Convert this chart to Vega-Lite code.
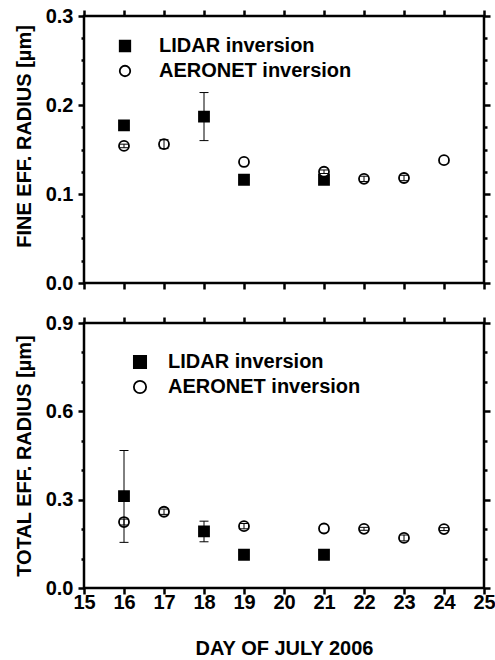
{
  "$schema": "https://vega.github.io/schema/vega-lite/v6.json",
  "padding": {"left": 12, "top": 4, "right": 0, "bottom": 2},
  "spacing": 16,
  "resolve": {"scale": {"shape": "independent", "fill": "independent"}, "legend": {"shape": "independent", "fill": "independent"}},
  "datasets": {
    "fine": [
      {"source": "LIDAR inversion", "day": 16, "value": 0.177},
      {"source": "LIDAR inversion", "day": 18, "value": 0.187, "lo": 0.160, "hi": 0.214},
      {"source": "LIDAR inversion", "day": 19, "value": 0.116},
      {"source": "LIDAR inversion", "day": 21, "value": 0.116},
      {"source": "AERONET inversion", "day": 16, "value": 0.154, "lo": 0.152, "hi": 0.156},
      {"source": "AERONET inversion", "day": 17, "value": 0.156, "lo": 0.151, "hi": 0.161},
      {"source": "AERONET inversion", "day": 19, "value": 0.136},
      {"source": "AERONET inversion", "day": 21, "value": 0.125, "lo": 0.123, "hi": 0.127},
      {"source": "AERONET inversion", "day": 22, "value": 0.117, "lo": 0.114, "hi": 0.120},
      {"source": "AERONET inversion", "day": 23, "value": 0.118, "lo": 0.115, "hi": 0.121},
      {"source": "AERONET inversion", "day": 24, "value": 0.138}
    ],
    "total": [
      {"source": "LIDAR inversion", "day": 16, "value": 0.312, "lo": 0.155, "hi": 0.467},
      {"source": "LIDAR inversion", "day": 18, "value": 0.192, "lo": 0.157, "hi": 0.227},
      {"source": "LIDAR inversion", "day": 19, "value": 0.113},
      {"source": "LIDAR inversion", "day": 21, "value": 0.113},
      {"source": "AERONET inversion", "day": 16, "value": 0.224, "lo": 0.214, "hi": 0.234},
      {"source": "AERONET inversion", "day": 17, "value": 0.259, "lo": 0.250, "hi": 0.268},
      {"source": "AERONET inversion", "day": 19, "value": 0.210, "lo": 0.201, "hi": 0.219},
      {"source": "AERONET inversion", "day": 21, "value": 0.202},
      {"source": "AERONET inversion", "day": 22, "value": 0.201, "lo": 0.196, "hi": 0.206},
      {"source": "AERONET inversion", "day": 23, "value": 0.170, "lo": 0.160, "hi": 0.180},
      {"source": "AERONET inversion", "day": 24, "value": 0.200, "lo": 0.195, "hi": 0.205}
    ]
  },
  "vconcat": [
    {
      "width": 400,
      "height": 267,
      "data": {"name": "fine"},
      "resolve": {"axis": {"x": "independent", "y": "independent"}},
      "layer": [
        {
          "mark": {"type": "point", "filled": true, "stroke": "black", "strokeWidth": 1.8, "size": 100, "opacity": 1},
          "encoding": {
            "x": {"field": "day", "type": "quantitative", "scale": {"domain": [15, 25], "nice": false},
              "axis": {"orient": "bottom", "values": [15,16,17,18,19,20,21,22,23,24,25], "labels": false, "tickSize": 6,
                "ticks": true, "tickColor": "black", "tickWidth": 2.5, "tickOpacity": 1, "title": null}},
            "y": {"field": "value", "type": "quantitative", "scale": {"domain": [0, 0.3], "nice": false},
              "axis": {"orient": "left", "tickSize": 6, "ticks": true, "tickColor": "black", "tickWidth": 2.5, "tickOpacity": 1,
                "values": [0,0.025,0.05,0.075,0.1,0.125,0.15,0.175,0.2,0.225,0.25,0.275,0.3],
                "labelExpr": "abs(datum.value*10 - round(datum.value*10)) < 0.001 ? format(datum.value, '.1f') : ''",
                "tickDash": {"condition": {"test": "abs(datum.value*10 - round(datum.value*10)) < 0.001", "value": [6, 0]}, "value": [3, 6]},
                "labelPadding": 5, "title": "FINE EFF. RADIUS [µm]", "titlePadding": 11, "titleY": 120}},
            "shape": {"field": "source", "type": "nominal", "scale": {"domain": ["LIDAR inversion", "AERONET inversion"], "range": ["square", "circle"]},
              "legend": {"legendX": 31, "legendY": 20, "labelOffset": 24, "rowPadding": 5,
                "encode": {"symbols": {"update": {"stroke": {"value": "black"}, "strokeWidth": {"value": 1.8}}}}}},
            "fill": {"field": "source", "type": "nominal", "scale": {"domain": ["LIDAR inversion", "AERONET inversion"], "range": ["black", "white"]},
              "legend": {"legendX": 31, "legendY": 20, "labelOffset": 24, "rowPadding": 5,
                "encode": {"symbols": {"update": {"stroke": {"value": "black"}, "strokeWidth": {"value": 1.8}}}}}}
          }
        },
        {
          "transform": [{"filter": "isValid(datum.lo)"}],
          "mark": {"type": "rule", "color": "black", "strokeWidth": 1},
          "encoding": {
            "x": {"field": "day", "type": "quantitative", "scale": {"domain": [15, 25], "nice": false}, "axis": null},
            "y": {"field": "lo", "type": "quantitative", "scale": {"domain": [0, 0.3], "nice": false}, "axis": null},
            "y2": {"field": "hi"}
          }
        },
        {
          "transform": [{"filter": "isValid(datum.lo)"}],
          "mark": {"type": "tick", "orient": "horizontal", "color": "black", "size": 9, "thickness": 1, "opacity": 1},
          "encoding": {
            "x": {"field": "day", "type": "quantitative", "scale": {"domain": [15, 25], "nice": false}, "axis": null},
            "y": {"field": "lo", "type": "quantitative", "scale": {"domain": [0, 0.3], "nice": false}, "axis": null}
          }
        },
        {
          "transform": [{"filter": "isValid(datum.lo)"}],
          "mark": {"type": "tick", "orient": "horizontal", "color": "black", "size": 9, "thickness": 1, "opacity": 1},
          "encoding": {
            "x": {"field": "day", "type": "quantitative", "scale": {"domain": [15, 25], "nice": false}, "axis": null},
            "y": {"field": "hi", "type": "quantitative", "scale": {"domain": [0, 0.3], "nice": false}, "axis": null}
          }
        },
        {
          "mark": {"type": "point", "opacity": 0},
          "encoding": {
            "x": {"field": "day", "type": "quantitative", "scale": {"domain": [15, 25], "nice": false},
              "axis": {"orient": "top", "values": [15,16,17,18,19,20,21,22,23,24,25], "labels": false, "tickSize": 6,
                "ticks": true, "tickColor": "black", "tickWidth": 2.5, "tickOpacity": 1, "title": null}},
            "y": {"field": "value", "type": "quantitative", "scale": {"domain": [0, 0.3], "nice": false},
              "axis": {"orient": "right", "tickSize": 6, "ticks": true, "tickColor": "black", "tickWidth": 2.5, "tickOpacity": 1,
                "values": [0,0.025,0.05,0.075,0.1,0.125,0.15,0.175,0.2,0.225,0.25,0.275,0.3], "labels": false,
                "tickDash": {"condition": {"test": "abs(datum.value*10 - round(datum.value*10)) < 0.001", "value": [6, 0]}, "value": [3, 6]},
                "title": null}}
          }
        }
      ]
    },
    {
      "width": 400,
      "height": 265,
      "data": {"name": "total"},
      "resolve": {"axis": {"x": "independent", "y": "independent"}},
      "layer": [
        {
          "mark": {"type": "point", "filled": true, "stroke": "black", "strokeWidth": 1.8, "size": 100, "opacity": 1},
          "encoding": {
            "x": {"field": "day", "type": "quantitative", "scale": {"domain": [15, 25], "nice": false},
              "axis": {"orient": "bottom", "tickSize": 6, "ticks": true, "tickColor": "black", "tickWidth": 2.5, "tickOpacity": 1,
                "values": [15,16,17,18,19,20,21,22,23,24,25], "labelPadding": -2, "labelFlush": false,
                "title": "DAY OF JULY 2006", "titlePadding": 26}},
            "y": {"field": "value", "type": "quantitative", "scale": {"domain": [0, 0.9], "nice": false},
              "axis": {"orient": "left", "tickSize": 6, "ticks": true, "tickColor": "black", "tickWidth": 2.5, "tickOpacity": 1,
                "values": [0,0.1,0.2,0.3,0.4,0.5,0.6,0.7,0.8,0.9],
                "labelExpr": "abs(datum.value/0.3 - round(datum.value/0.3)) < 0.001 ? format(datum.value, '.1f') : ''",
                "tickDash": {"condition": {"test": "abs(datum.value/0.3 - round(datum.value/0.3)) < 0.001", "value": [6, 0]}, "value": [3, 6]},
                "labelPadding": 5, "title": "TOTAL EFF. RADIUS [µm]", "titlePadding": 11}},
            "shape": {"field": "source", "type": "nominal", "scale": {"domain": ["LIDAR inversion", "AERONET inversion"], "range": ["square", "circle"]},
              "legend": {"legendX": 46, "legendY": 29, "labelOffset": 18, "rowPadding": 5, "symbolSize": 150,
                "encode": {"symbols": {"update": {"stroke": {"value": "black"}, "strokeWidth": {"value": 1.8}}}}}},
            "fill": {"field": "source", "type": "nominal", "scale": {"domain": ["LIDAR inversion", "AERONET inversion"], "range": ["black", "white"]},
              "legend": {"legendX": 46, "legendY": 29, "labelOffset": 18, "rowPadding": 5, "symbolSize": 150,
                "encode": {"symbols": {"update": {"stroke": {"value": "black"}, "strokeWidth": {"value": 1.8}}}}}}
          }
        },
        {
          "transform": [{"filter": "isValid(datum.lo)"}],
          "mark": {"type": "rule", "color": "black", "strokeWidth": 1},
          "encoding": {
            "x": {"field": "day", "type": "quantitative", "scale": {"domain": [15, 25], "nice": false}, "axis": null},
            "y": {"field": "lo", "type": "quantitative", "scale": {"domain": [0, 0.9], "nice": false}, "axis": null},
            "y2": {"field": "hi"}
          }
        },
        {
          "transform": [{"filter": "isValid(datum.lo)"}],
          "mark": {"type": "tick", "orient": "horizontal", "color": "black", "size": 9, "thickness": 1, "opacity": 1},
          "encoding": {
            "x": {"field": "day", "type": "quantitative", "scale": {"domain": [15, 25], "nice": false}, "axis": null},
            "y": {"field": "lo", "type": "quantitative", "scale": {"domain": [0, 0.9], "nice": false}, "axis": null}
          }
        },
        {
          "transform": [{"filter": "isValid(datum.lo)"}],
          "mark": {"type": "tick", "orient": "horizontal", "color": "black", "size": 9, "thickness": 1, "opacity": 1},
          "encoding": {
            "x": {"field": "day", "type": "quantitative", "scale": {"domain": [15, 25], "nice": false}, "axis": null},
            "y": {"field": "hi", "type": "quantitative", "scale": {"domain": [0, 0.9], "nice": false}, "axis": null}
          }
        },
        {
          "mark": {"type": "point", "opacity": 0},
          "encoding": {
            "x": {"field": "day", "type": "quantitative", "scale": {"domain": [15, 25], "nice": false},
              "axis": {"orient": "top", "tickSize": 6, "ticks": true, "tickColor": "black", "tickWidth": 2.5, "tickOpacity": 1,
                "values": [15,16,17,18,19,20,21,22,23,24,25], "labels": false, "title": null}},
            "y": {"field": "value", "type": "quantitative", "scale": {"domain": [0, 0.9], "nice": false},
              "axis": {"orient": "right", "tickSize": 6, "ticks": true, "tickColor": "black", "tickWidth": 2.5, "tickOpacity": 1,
                "values": [0,0.1,0.2,0.3,0.4,0.5,0.6,0.7,0.8,0.9], "labels": false,
                "tickDash": {"condition": {"test": "abs(datum.value/0.3 - round(datum.value/0.3)) < 0.001", "value": [6, 0]}, "value": [3, 6]},
                "title": null}}
          }
        }
      ]
    }
  ],
  "config": {
    "view": {"stroke": "black", "strokeWidth": 2.5, "fill": "transparent"},
    "axis": {
      "domain": false, "grid": false, "zindex": 1,
      "labelFont": "Liberation Sans", "labelFontWeight": "bold", "labelFontSize": 20, "labelColor": "black",
      "titleFont": "Liberation Sans", "titleFontWeight": "bold", "titleFontSize": 20, "titleColor": "black"
    },
    "legend": {
      "orient": "none", "title": null, "labelLimit": 400,
      "labelFont": "Liberation Sans", "labelFontWeight": "bold", "labelFontSize": 20, "labelColor": "black",
      "symbolSize": 110, "symbolStrokeWidth": 1.8, "symbolStrokeColor": "black", "symbolOpacity": 1
    }
  }
}
